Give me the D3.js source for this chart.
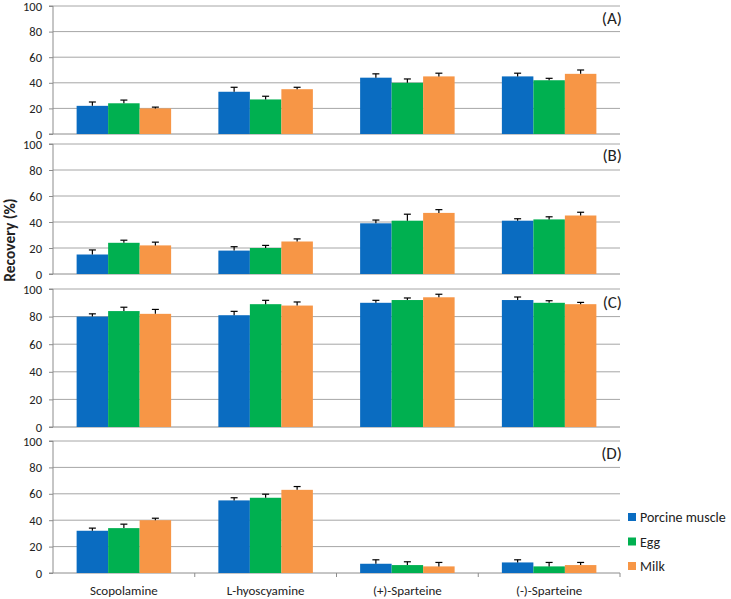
<!DOCTYPE html>
<html>
<head>
<meta charset="utf-8">
<script src="https://cdn.jsdelivr.net/npm/d3@7"></script>
<style>
  body { margin: 0; background: #fff; }
  text { font-family: Calibri, Carlito, "Open Sans", sans-serif; fill: #222; }
</style>
</head>
<body>
<div id="chart"></div>
<script>
// Data
var compounds = ["Scopolamine", "L-hyoscyamine", "(+)-Sparteine", "(-)-Sparteine"];
var matrices = ["Porcine muscle", "Egg", "Milk"];
var colors = ["#0a6cc1", "#00b050", "#f79646"];
var yTicks = [0, 20, 40, 60, 80, 100];
var panelNames = ["(A)", "(B)", "(C)", "(D)"];

// recovery values per panel: [compound][matrix]
var valuesA = [[22, 24, 20], [33, 27, 35], [44, 40, 45], [45, 42, 47]];
var valuesB = [[15, 24, 22], [18, 20, 25], [39, 41, 47], [41, 42, 45]];
var valuesC = [[80, 84, 82], [81, 89, 88], [90, 92, 94], [92, 90, 89]];
var valuesD = [[32, 34, 40], [55, 57, 63], [7, 6, 5], [8, 5, 6]];

// error bar sizes (upper only)
var errorsA = [[3, 2.5, 1], [3.5, 2.5, 1.5], [3, 3, 2.5], [2.5, 1.5, 3]];
var errorsB = [[3.5, 2, 2.5], [3, 2, 2], [2.5, 5, 2.5], [1.5, 2, 2.5]];
var errorsC = [[2, 2.8, 3.2], [2.8, 2.8, 2.6], [1.8, 1.5, 2.2], [2.2, 1.5, 1.3]];
var errorsD = [[2, 3, 1.5], [2, 2.7, 2.5], [3, 2.5, 3], [2, 3, 2]];

var panelValues = [valuesA, valuesB, valuesC, valuesD];
var panelErrors = [errorsA, errorsB, errorsC, errorsD];

var width = 731, height = 599;
var left = 53, right = 620;
// top (value 100) and bottom (value 0) of each panel in pixels
var panelTop = [6, 144, 289, 441];
var panelBottom = [134, 274, 427, 573];
var labelBase = [24, 161, 308, 459];

var svg = d3.select("#chart").append("svg")
  .attr("width", width)
  .attr("height", height);

var x0 = d3.scaleBand().domain(compounds).range([left, right]).paddingInner(0).paddingOuter(0);
var x1 = d3.scaleBand().domain(matrices)
  .range([0, x0.bandwidth()]).paddingInner(0).paddingOuter(0.75);

panelValues.forEach(function(vals, p) {
  var y = d3.scaleLinear().domain([0, 100]).range([panelBottom[p], panelTop[p]]);
  var g = svg.append("g");

  // gridlines
  g.selectAll("line.grid").data(yTicks.slice(1)).enter().append("line")
    .attr("x1", left).attr("x2", right)
    .attr("y1", function(d) { return y(d); })
    .attr("y2", function(d) { return y(d); })
    .attr("stroke", "#a6a6a6").attr("stroke-width", 1);

  // y axis
  var yAxis = d3.axisLeft(y).tickValues(yTicks).tickSize(4).tickPadding(7);
  var ya = g.append("g").attr("transform", "translate(" + left + ",0)").call(yAxis);
  ya.selectAll("path, line").attr("stroke", "#8c8c8c");
  ya.select("path").attr("d", "M-4," + y(100) + "H0V" + y(0) + "H-4");
  ya.selectAll("text").style("font-size", "12.5px").attr("fill", "#222");

  // x axis line
  var xa = g.append("g").attr("transform", "translate(0," + y(0) + ")");
  xa.append("line").attr("x1", left).attr("x2", right)
    .attr("stroke", "#8c8c8c");
  if (p === 3) {
    xa.selectAll("line.tick").data(compounds.slice(1).concat(["end"])).enter().append("line")
      .attr("x1", function(d) { return d === "end" ? right : x0(d); })
      .attr("x2", function(d) { return d === "end" ? right : x0(d); })
      .attr("y1", 0).attr("y2", 4)
      .attr("stroke", "#8c8c8c");
    xa.selectAll("text").data(compounds).enter().append("text")
      .attr("x", function(d) { return x0(d) + x0.bandwidth() / 2; })
      .attr("y", 22)
      .attr("text-anchor", "middle")
      .style("font-size", "13px")
      .text(function(d) { return d; });
  }

  // bars
  var groups = g.selectAll("g.cat").data(vals).enter().append("g")
    .attr("transform", function(d, i) { return "translate(" + x0(compounds[i]) + ",0)"; });

  groups.each(function(row, i) {
    var gg = d3.select(this);
    gg.selectAll("rect").data(row).enter().append("rect")
      .attr("x", function(d, j) { return x1(matrices[j]); })
      .attr("width", x1.bandwidth())
      .attr("y", function(d) { return y(d); })
      .attr("height", function(d) { return y(0) - y(d); })
      .attr("fill", function(d, j) { return colors[j]; });

    var errs = panelErrors[p][i];
    row.forEach(function(v, j) {
      var cx = x1(matrices[j]) + x1.bandwidth() / 2;
      gg.append("line")
        .attr("x1", cx).attr("x2", cx)
        .attr("y1", y(v)).attr("y2", y(v + errs[j]))
        .attr("stroke", "#000").attr("stroke-width", 1.2);
      gg.append("line")
        .attr("x1", cx - 3.5).attr("x2", cx + 3.5)
        .attr("y1", y(v + errs[j])).attr("y2", y(v + errs[j]))
        .attr("stroke", "#000").attr("stroke-width", 1.2);
    });
  });

  // panel letter
  g.append("text")
    .attr("x", right + 2)
    .attr("y", labelBase[p])
    .attr("text-anchor", "end")
    .style("font-size", "17px")
    .text(panelNames[p]);
});

// y axis title
svg.append("text")
  .attr("transform", "translate(15,240)rotate(-90)")
  .attr("text-anchor", "middle")
  .style("font-size", "15.5px")
  .style("font-weight", "bold")
  .text("Recovery (%)");

// legend
var legend = svg.append("g").attr("transform", "translate(628,517)");
matrices.forEach(function(m, i) {
  legend.append("rect")
    .attr("x", 0).attr("y", i * 24.5 - 4)
    .attr("width", 8).attr("height", 8)
    .attr("fill", colors[i]);
  legend.append("text")
    .attr("x", 12).attr("y", i * 24.5 + 5)
    .style("font-size", "14px")
    .text(m);
});
</script>
</body>
</html>
